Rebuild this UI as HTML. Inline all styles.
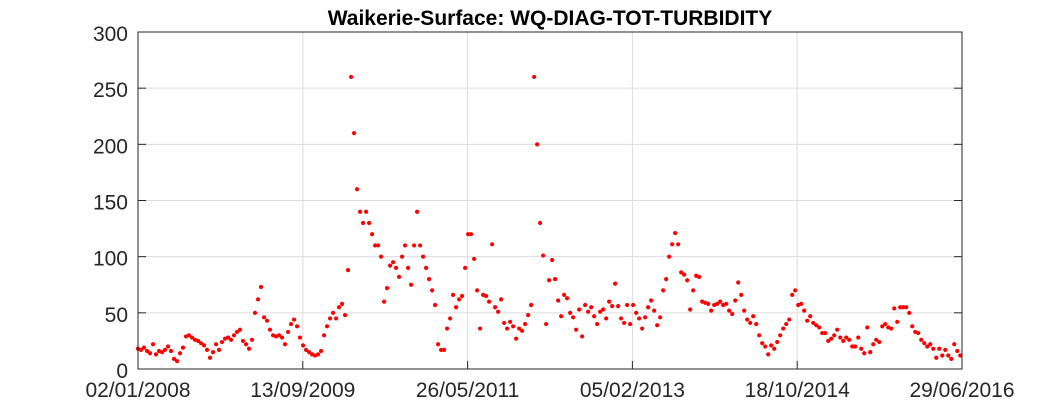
<!DOCTYPE html>
<html><head><meta charset="utf-8"><style>
body{margin:0;background:#fff;}
svg{display:block;font-family:"Liberation Sans",Arial,sans-serif;}
</style></head><body>
<svg id="chart" width="1063" height="413" viewBox="0 0 1063 413">
<rect x="0" y="0" width="1063" height="413" fill="#fff"/>
<text x="550" y="25" text-anchor="middle" font-size="21" font-weight="bold" fill="#000">Waikerie-Surface: WQ-DIAG-TOT-TURBIDITY</text>
<g id="grid"></g><g id="marks"></g><g id="axes"></g>
</svg>
<script>
const xTickLabels = ["02/01/2008","13/09/2009","26/05/2011","05/02/2013","18/10/2014","29/06/2016"];
const xTickDays = [0,620,1240,1860,2480,3100];
const yTicks = [0,50,100,150,200,250,300];
const sampleIntervalDays = 11.29;
const turbidity = [18,17,19,16,14,22,13,16,15,17,20,16,9,7,14,19,29,30,28,26,25,23,21,17,10,15,22,17,24,27,28,26,30,33,35,25,22,18,26,50,62,
73,46,43,35,30,29,30,28,22,33,40,44,38,28,21,17,15,13,12,13,16,30,38,45,50,45,55,58,48,88,260,210,160,
140,130,140,130,120,110,110,100,60,72,92,95,90,82,100,110,90,75,110,140,110,100,90,80,70,57,22,17,17,36,45,66,55,
62,65,90,120,120,98,70,36,66,65,60,111,55,51,62,41,36,42,38,27,36,34,40,48,57,
260,200,130,101,40,79,97,80,61,47,66,63,50,46,35,53,29,57,51,55,47,40,
51,53,45,60,56,76,56,45,41,57,40,57,50,45,36,46,55,61,52,39,46,70,80,100,111,121,111,86,84,79,53,70,83,82,60,59,58,52,57,58,60,57,58,52,49,61,77,66,52,44,41,47,40,30,23,20,13,21,18,24,30,36,40,44,66,70,57,58,52,43,47,41,39,37,32,32,25,27,30,35,28,25,28,26,20,20,28,18,14,37,15,22,26,24,38,40,37,36,54,42,55,55,55,50,38,33,32,26,23,20,22,18,10,18,12,17,12,9,22,16,12];

const L=138,R=962,T=32,B=369;
const xs=d=>L+(d-0)/(3100-0)*(R-L);
const ys=v=>B-(v/300)*(B-T);
const NS="http://www.w3.org/2000/svg";
function mk(tag,attrs,parent){const e=document.createElementNS(NS,tag);for(const k in attrs)e.setAttribute(k,attrs[k]);parent.appendChild(e);return e;}
const grid=document.getElementById('grid'),marks=document.getElementById('marks'),axes=document.getElementById('axes');
xTickDays.forEach((d,i)=>{
  const x=xs(d);
  if(i>0&&i<xTickDays.length-1){const g=mk('line',{x1:x,x2:x,y1:T,y2:B,stroke:'#dcdcdc','stroke-width':1},grid);
  
  }
  const t=mk('line',{x1:x,x2:x,y1:B,y2:B-8,stroke:'#262626','stroke-width':1},axes);
  
  
  const tx=mk('text',{x:x,y:397,'text-anchor':'middle','font-size':21,fill:'#262626'},axes);
  tx.textContent=xTickLabels[i];
  
  
});
yTicks.forEach(v=>{
  const y=ys(v);
  if(v>0&&v<300){const g=mk('line',{x1:L,x2:R,y1:y,y2:y,stroke:'#dcdcdc','stroke-width':1},grid);
  
  }
  const t=mk('line',{x1:L,x2:L+8,y1:y,y2:y,stroke:'#262626'},axes);
  
  
  const t2=mk('line',{x1:R,x2:R-8,y1:y,y2:y,stroke:'#262626'},axes);
  
  
  const tx=mk('text',{x:L-10,y:y+9,'text-anchor':'end','font-size':21,fill:'#262626'},axes);
  tx.textContent=v;
  
  
});
const box=mk('rect',{x:L,y:T,width:R-L,height:B-T,fill:'none',stroke:'#262626','stroke-width':1},axes);


turbidity.forEach((v,i)=>{
  const c=mk('circle',{cx:xs(i*sampleIntervalDays),cy:ys(v),r:2.1,fill:'#ff0000'},marks);
  
  
});
</script>
</body></html>
